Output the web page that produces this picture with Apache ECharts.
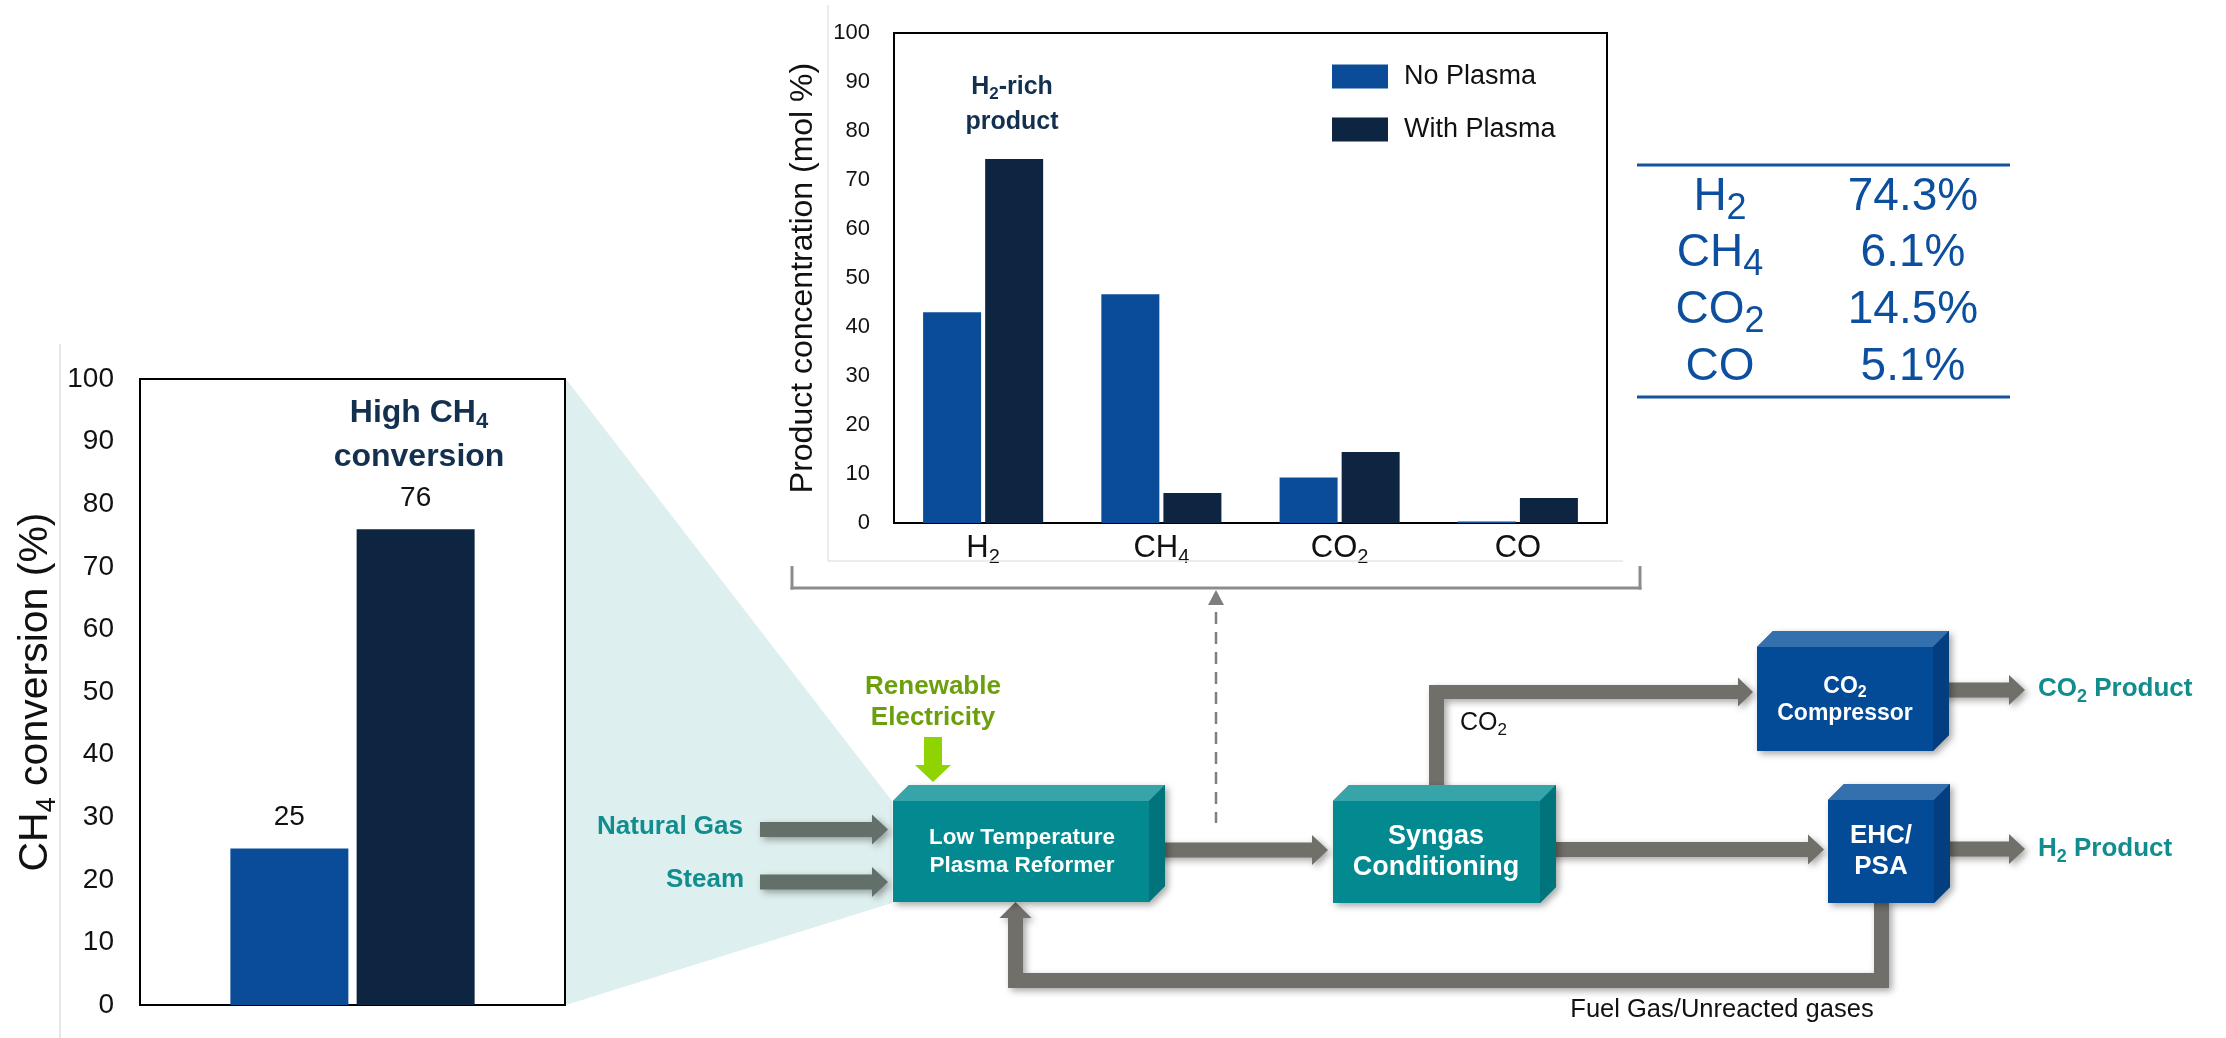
<!DOCTYPE html>
<html>
<head>
<meta charset="utf-8">
<script src="https://cdn.jsdelivr.net/npm/echarts@6/dist/echarts.min.js"></script>
<style>
  html, body { margin: 0; padding: 0; background: #ffffff; }
  #main { width: 2226px; height: 1038px; }
</style>
</head>
<body>
<div id="main"></div>
<script>
// ---- data ----
// CH4 conversion (%) without / with plasma
const seriesNames = ['No Plasma', 'With Plasma'];
const conversionValues = [25, 76];

// Product gas composition (mol %)
const products = ['H2', 'CH4', 'CO2', 'CO'];
const noPlasma = [43.0, 46.7, 9.3, 0.3];
const withPlasma = [74.3, 6.1, 14.5, 5.1];

// shared value-axis ticks
const axisMin = 0, axisMax = 100, axisStep = 10;

// ---- styling ----
const FONT = '"Liberation Sans", Arial, sans-serif';
const BLUE = '#0b4c99';
const NAVY = '#0e2542';
const INK = '#111111';
const NOTE = '#14304f';
const TEAL_TXT = '#128d8f';
const GREEN_TXT = '#6c9f0c';
const PIPE = '#716f69';
const FEED = '#627069';
const TABLE = '#0d4f9f';

// chemical formula -> rich tokens, digits set as subscripts
function formula(s) {
  return s.split(/(\d+)/).filter(p => p !== '')
    .map(p => /^\d+$/.test(p) ? '{s|' + p + '}' : '{n|' + p + '}').join('');
}
// F: main size, Fs: subscript size, D: how far the subscript sits below the main text centre
function richSet(F, Fs, D, weight, color) {
  const base = { fontFamily: FONT, fontWeight: weight, color: color, fill: color, verticalAlign: 'middle' };
  return {
    n: Object.assign({}, base, { fontSize: F, lineHeight: Math.round(F * 1.2) }),
    s: Object.assign({}, base, { fontSize: Fs, lineHeight: Math.round(Fs * 1.2), padding: [2 * D, 0, 0, 0] })
  };
}
function text(x, y, str, F, Fs, D, weight, color, align) {
  return {
    type: 'text', x: x, y: y, z: 20,
    style: {
      text: formula(str), rich: richSet(F, Fs, D, weight, color),
      fill: color, fontFamily: FONT, fontSize: F, fontWeight: weight,
      align: align || 'center', verticalAlign: 'middle'
    }
  };
}
function plain(x, y, str, F, weight, color, align) {
  return {
    type: 'text', x: x, y: y, z: 20,
    style: { text: str, fill: color, fontFamily: FONT, fontSize: F, fontWeight: weight,
             align: align || 'center', verticalAlign: 'middle' }
  };
}

const shadow = { shadowBlur: 7, shadowOffsetX: 3, shadowOffsetY: 3, shadowColor: 'rgba(0,0,0,0.35)' };

function poly(points, fill, withShadow, z) {
  return { type: 'polygon', z: z || 5, shape: { points: points },
    style: Object.assign({ fill: fill, stroke: 'none' }, withShadow ? shadow : {}) };
}
function seg(x1, y1, x2, y2, color, w, dash) {
  return { type: 'line', z: 3, shape: { x1: x1, y1: y1, x2: x2, y2: y2 },
    style: { stroke: color, lineWidth: w, lineDash: dash || null } };
}
// horizontal block arrow
function hArrow(x0, x1, y, color) {
  const t = 7.5, hl = 16, hw = 15;
  return poly([[x0, y - t], [x1 - hl, y - t], [x1 - hl, y - hw], [x1, y],
               [x1 - hl, y + hw], [x1 - hl, y + t], [x0, y + t]], color, true, 6);
}
// 3-D process box: front face, top bevel, right bevel
function box(x0, y0, x1, y1, c) {
  const d = 16;
  return [
    poly([[x0, y0], [x0 + d, y0 - d], [x1 + d, y0 - d], [x1 + d, y1 - d], [x1, y1], [x0, y1]], c.front, true, 8),
    poly([[x0, y0], [x1, y0], [x1, y1], [x0, y1]], c.front, false, 9),
    poly([[x0, y0], [x0 + d, y0 - d], [x1 + d, y0 - d], [x1, y0]], c.top, false, 9),
    poly([[x1, y0], [x1 + d, y0 - d], [x1 + d, y1 - d], [x1, y1]], c.side, false, 9)
  ];
}
const tealBox = { front: '#028a90', top: '#36a4a9', side: '#00747a' };
const blueBox = { front: '#034a97', top: '#3570ae', side: '#023e80' };

// ---- decorative / diagram elements ----
const elements = [];
// faint frame edges of the two chart panels
elements.push(seg(60, 344, 60, 1038, '#dedede', 1.5));
elements.push(seg(828, 5, 828, 561, '#e6e6e6', 1.5));
elements.push(seg(828, 561, 1623, 561, '#e6e6e6', 1.5));
// zoom wedge from conversion chart to reformer
elements.push(poly([[566, 379], [892, 801], [892, 903], [566, 1005]], '#ddefee', false, 1));

// bracket + dashed link from product chart to reformer outlet
elements.push(seg(792, 566, 792, 589.5, '#8c8c8c', 3));
elements.push(seg(790.5, 588, 1641.5, 588, '#8c8c8c', 3));
elements.push(seg(1640, 566, 1640, 589.5, '#8c8c8c', 3));
elements.push(poly([[1216, 590], [1224, 605], [1208, 605]], '#7f7f7f', false, 3));
elements.push(seg(1216, 612, 1216, 823, '#7f7f7f', 2.5, [12, 8]));

// feeds
elements.push(hArrow(760, 888, 829.5, FEED));
elements.push(hArrow(760, 888, 882, FEED));
// electricity input
elements.push(poly([[924, 737], [942, 737], [942, 765], [951, 765], [933, 782], [915, 765], [924, 765]], '#8fd400', false, 6));

// process streams
elements.push(hArrow(1150, 1328, 850, PIPE));
elements.push(hArrow(1541, 1824, 849.5, PIPE));
elements.push(hArrow(1943, 2025, 690, PIPE));
elements.push(hArrow(1943, 2025, 849, PIPE));
// CO2 branch
elements.push(poly([[1429, 792], [1429, 685], [1738, 685], [1738, 677.5], [1753, 692], [1738, 706.5],
                    [1738, 699], [1444, 699], [1444, 792]], PIPE, true, 6));
// recycle of fuel gas / unreacted gases
elements.push(poly([[1889, 900], [1889, 988], [1008, 988], [1008, 918], [999.5, 918], [1015.5, 902],
                    [1031.5, 918], [1023, 918], [1023, 973], [1874, 973], [1874, 900]], PIPE, true, 6));

// units
elements.push(...box(893, 801, 1149, 902, tealBox));
elements.push(...box(1333, 801, 1540, 903, tealBox));
elements.push(...box(1757, 647, 1933, 751, blueBox));
elements.push(...box(1828, 800, 1934, 903, blueBox));

// labels
elements.push(plain(933, 687, 'Renewable', 26, 'bold', GREEN_TXT));
elements.push(plain(933, 718, 'Electricity', 26, 'bold', GREEN_TXT));
elements.push(plain(743, 827, 'Natural Gas', 26, 'bold', TEAL_TXT, 'right'));
elements.push(plain(744, 880, 'Steam', 26, 'bold', TEAL_TXT, 'right'));
elements.push(plain(1022, 838, 'Low Temperature', 22.5, 'bold', '#ffffff'));
elements.push(plain(1022, 866, 'Plasma Reformer', 22.5, 'bold', '#ffffff'));
elements.push(plain(1436, 837, 'Syngas', 27, 'bold', '#ffffff'));
elements.push(plain(1436, 868, 'Conditioning', 27, 'bold', '#ffffff'));
elements.push(text(1845, 687, 'CO2', 23, 16, 5.5, 'bold', '#ffffff'));
elements.push(plain(1845, 714, 'Compressor', 23, 'bold', '#ffffff'));
elements.push(plain(1881, 836, 'EHC/', 26, 'bold', '#ffffff'));
elements.push(plain(1881, 867, 'PSA', 26, 'bold', '#ffffff'));
elements.push(text(1460, 723, 'CO2', 25, 17, 7.5, 'normal', INK, 'left'));
elements.push(text(2038, 689, 'CO2 Product', 26, 18, 8.5, 'bold', TEAL_TXT, 'left'));
elements.push(text(2038, 849, 'H2 Product', 26, 18, 8, 'bold', TEAL_TXT, 'left'));
elements.push(plain(1722, 1010, 'Fuel Gas/Unreacted gases', 25.5, 'normal', INK));

// chart annotations
elements.push(text(1012, 87, 'H2-rich', 25, 17, 7.5, 'bold', NOTE));
elements.push(plain(1012, 122, 'product', 25, 'bold', NOTE));
elements.push(text(419, 413, 'High CH4', 32, 22, 9, 'bold', NOTE));
elements.push(plain(419, 457, 'conversion', 32, 'bold', NOTE));

// composition summary (with plasma)
elements.push(seg(1637, 165, 2010, 165, '#1452a0', 3));
elements.push(seg(1637, 397, 2010, 397, '#1452a0', 3));
const rowY = [197, 253, 310, 367];
products.forEach((p, i) => {
  elements.push(text(1720, rowY[i], p, 46, 36, 12, 'normal', TABLE));
  elements.push(plain(1913, rowY[i], withPlasma[i].toFixed(1) + '%', 46, 'normal', TABLE));
});

// ---- charts ----
const option = {
  animation: false,
  backgroundColor: '#ffffff',
  textStyle: { fontFamily: FONT },
  legend: {
    data: seriesNames, orient: 'vertical', left: 1327, top: 58,
    itemWidth: 56, itemHeight: 24, itemGap: 26, icon: 'rect', selectedMode: false,
    textStyle: { fontSize: 27, color: INK, fontFamily: FONT, padding: [0, 0, 0, 11] }
  },
  grid: [
    { left: 140, top: 379, width: 425, height: 626, show: true, borderColor: '#000', borderWidth: 2, backgroundColor: 'transparent' },
    { left: 894, top: 33, width: 713, height: 490, show: true, borderColor: '#000', borderWidth: 2, backgroundColor: 'transparent' }
  ],
  xAxis: [
    { type: 'category', gridIndex: 0, data: ['CH4'], axisLine: { show: false }, axisTick: { show: false }, axisLabel: { show: false } },
    { type: 'category', gridIndex: 1, data: products, axisLine: { show: false }, axisTick: { show: false },
      axisLabel: { interval: 0, margin: 7, formatter: v => formula(v), rich: richSet(31, 20, 8.5, 'normal', INK) } }
  ],
  yAxis: [
    { type: 'value', gridIndex: 0, min: axisMin, max: axisMax, interval: axisStep,
      axisLine: { show: false }, axisTick: { show: false }, splitLine: { show: false },
      axisLabel: { fontSize: 28, color: INK, margin: 26, fontFamily: FONT },
      name: formula('CH4 conversion (%)'), nameLocation: 'middle', nameRotate: 90, nameGap: 80,
      nameTextStyle: { rich: richSet(41, 27, 12, 'normal', INK) } },
    { type: 'value', gridIndex: 1, min: axisMin, max: axisMax, interval: axisStep,
      axisLine: { show: false }, axisTick: { show: false }, splitLine: { show: false },
      axisLabel: { fontSize: 22, color: INK, margin: 24, fontFamily: FONT },
      name: 'Product concentration (mol %)', nameLocation: 'middle', nameRotate: 90, nameGap: 75,
      nameTextStyle: { fontSize: 32, color: INK, fontFamily: FONT } }
  ],
  series: [
    { name: seriesNames[0], type: 'bar', xAxisIndex: 0, yAxisIndex: 0, data: [conversionValues[0]],
      barWidth: 118, barGap: '7%', itemStyle: { color: BLUE },
      label: { show: true, position: 'top', distance: 17, fontSize: 28, color: INK, fontFamily: FONT } },
    { name: seriesNames[1], type: 'bar', xAxisIndex: 0, yAxisIndex: 0, data: [conversionValues[1]],
      barWidth: 118, barGap: '7%', itemStyle: { color: NAVY },
      label: { show: true, position: 'top', distance: 17, fontSize: 28, color: INK, fontFamily: FONT } },
    { name: seriesNames[0], type: 'bar', xAxisIndex: 1, yAxisIndex: 1, data: noPlasma,
      barWidth: 58, barGap: '7%', itemStyle: { color: BLUE } },
    { name: seriesNames[1], type: 'bar', xAxisIndex: 1, yAxisIndex: 1, data: withPlasma,
      barWidth: 58, barGap: '7%', itemStyle: { color: NAVY } }
  ],
  graphic: { elements: elements }
};

const chart = echarts.init(document.getElementById('main'), null, { renderer: 'canvas' });
chart.setOption(option);
</script>
</body>
</html>
